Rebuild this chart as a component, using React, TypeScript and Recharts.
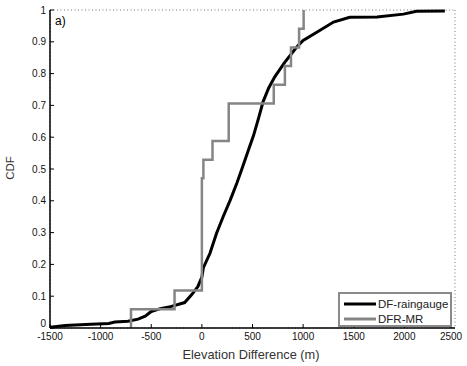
import {
  CartesianGrid,
  Customized,
  Legend,
  Line,
  LineChart,
  XAxis,
  YAxis,
} from 'recharts'

const rainX = [
  -1500, -1350, -1150, -920, -860, -730, -630, -560, -500, -410, -300, -170,
  -100, -40, 0, 15, 80, 145, 210, 280, 345, 395, 460, 510, 560, 605, 660, 720,
  820, 935, 1000, 1135, 1300, 1460, 1730, 1990, 2120, 2400,
]
const rainCdf = [
  0.002, 0.008, 0.011, 0.014, 0.019, 0.021, 0.028, 0.037, 0.052, 0.061, 0.068,
  0.08, 0.105, 0.13, 0.16, 0.19, 0.235, 0.298, 0.35, 0.402, 0.455, 0.5, 0.56,
  0.605, 0.66, 0.712, 0.755, 0.79, 0.836, 0.883, 0.904, 0.93, 0.962, 0.977,
  0.978, 0.987, 0.996, 0.997,
]

// DFR-MR step CDF (17 samples)
const mrX = [-700, -700, -270, 0, 15, 105, 265, 710, 820, 880, 960, 1005]
const mrCdf = [0, 0.059, 0.118, 0.471, 0.529, 0.588, 0.706, 0.765, 0.824, 0.882, 0.941, 1]

const xTicks = [-1500, -1000, -500, 0, 500, 1000, 1500, 2000, 2500]
const yTicks = [0, 0.1, 0.2, 0.3, 0.4, 0.5, 0.6, 0.7, 0.8, 0.9, 1]

const rainData = rainX.map((x, i) => ({ x, y: rainCdf[i] }))
const mrData = mrX.map((x, i) => ({ x, y: mrCdf[i] }))

const FONT = 'Liberation Sans, Arial, sans-serif'

const BottomTick = (props: any) => {
  const { x, y, payload } = props
  return (
    <g>
      <line x1={x} x2={x} y1={y} y2={y - 4} stroke="#000" />
      <text x={x} y={y + 12} textAnchor="middle" fontSize={10} fontFamily={FONT} fill="#111">
        {payload.value}
      </text>
    </g>
  )
}

const TopTick = (props: any) => {
  const { x, y } = props
  return <line x1={x} x2={x} y1={y} y2={y + 4} stroke="#000" />
}

const LeftTick = (props: any) => {
  const { x, y, payload } = props
  return (
    <g>
      <line x1={x} x2={x + 4} y1={y} y2={y} stroke="#000" />
      <text
        x={x - 4}
        y={payload.value === 0 ? y - 1 : y + 3.5}
        textAnchor="end"
        fontSize={10}
        fontFamily={FONT}
        fill="#111"
      >
        {payload.value}
      </text>
    </g>
  )
}

const RightTick = (props: any) => {
  const { x, y } = props
  return <line x1={x} x2={x - 4} y1={y} y2={y} stroke="#000" />
}

const Texts = () => (
  <g fontFamily={FONT} fill="#333">
    <text x={55} y={25} fontSize={12} fill="#000">
      a)
    </text>
    <text x={14} y={168} fontSize={11.5} textAnchor="middle" transform="rotate(-90 14 168)">
      CDF
    </text>
    <text x={251} y={359} fontSize={12.8} textAnchor="middle">
      Elevation Difference (m)
    </text>
  </g>
)

const LegendBox = () => (
  <div
    style={{
      width: 114,
      height: 35,
      border: '2px solid #8a8a8a',
      background: '#fff',
      fontFamily: FONT,
      fontSize: 11.5,
      color: '#222',
      boxSizing: 'border-box',
      padding: '2px 0 0 4px',
    }}
  >
    {[
      { name: 'DF-raingauge', color: '#000' },
      { name: 'DFR-MR', color: '#858585' },
    ].map((item) => (
      <div key={item.name} style={{ display: 'flex', alignItems: 'center', height: 15 }}>
        <svg width={32} height={6} style={{ marginRight: 2 }}>
          <line x1={0} x2={32} y1={3} y2={3} stroke={item.color} strokeWidth={3} />
        </svg>
        <span>{item.name}</span>
      </div>
    ))}
  </div>
)

export default function App() {
  return (
    <div style={{ position: 'absolute', left: 0, top: 0, background: '#fff' }}>
      <LineChart
        width={467}
        height={366}
        margin={{ top: 10, right: 12, bottom: 0, left: 0 }}
      >
        <CartesianGrid stroke="#777" strokeDasharray="1 2.5" />
        <XAxis
          xAxisId="b"
          dataKey="x"
          type="number"
          domain={[-1500, 2500]}
          ticks={xTicks}
          height={38}
          tickSize={0}
          tickMargin={0}
          tick={<BottomTick />}
          axisLine={{ stroke: '#000', strokeWidth: 1.5 }}
          tickLine={false}
          allowDataOverflow
        />
        <XAxis
          xAxisId="t"
          orientation="top"
          dataKey="x"
          type="number"
          domain={[-1500, 2500]}
          ticks={xTicks}
          height={0}
          tickSize={0}
          tickMargin={0}
          tick={<TopTick />}
          axisLine={{ stroke: '#000', strokeWidth: 1.5 }}
          tickLine={false}
        />
        <YAxis
          yAxisId="l"
          type="number"
          domain={[0, 1]}
          ticks={yTicks}
          width={50}
          tickSize={0}
          tickMargin={0}
          tick={<LeftTick />}
          axisLine={{ stroke: '#000', strokeWidth: 1.5 }}
          tickLine={false}
        />
        <YAxis
          yAxisId="r"
          orientation="right"
          type="number"
          domain={[0, 1]}
          ticks={yTicks}
          width={0}
          tickSize={0}
          tickMargin={0}
          tick={<RightTick />}
          axisLine={{ stroke: '#000', strokeWidth: 1.5 }}
          tickLine={false}
        />
        <Line
          xAxisId="b"
          yAxisId="l"
          data={rainData}
          dataKey="y"
          name="DF-raingauge"
          type="linear"
          stroke="#000"
          strokeWidth={3}
          dot={false}
          isAnimationActive={false}
        />
        <Line
          xAxisId="b"
          yAxisId="l"
          data={mrData}
          dataKey="y"
          name="DFR-MR"
          type="stepAfter"
          stroke="#858585"
          strokeWidth={2.5}
          dot={false}
          isAnimationActive={false}
        />
        <Legend
          layout="vertical"
          align="center"
          verticalAlign="middle"
          content={<LegendBox />}
          wrapperStyle={{ left: 338, top: 292, width: 114, height: 35 }}
        />
        <Customized component={Texts} />
      </LineChart>
    </div>
  )
}
